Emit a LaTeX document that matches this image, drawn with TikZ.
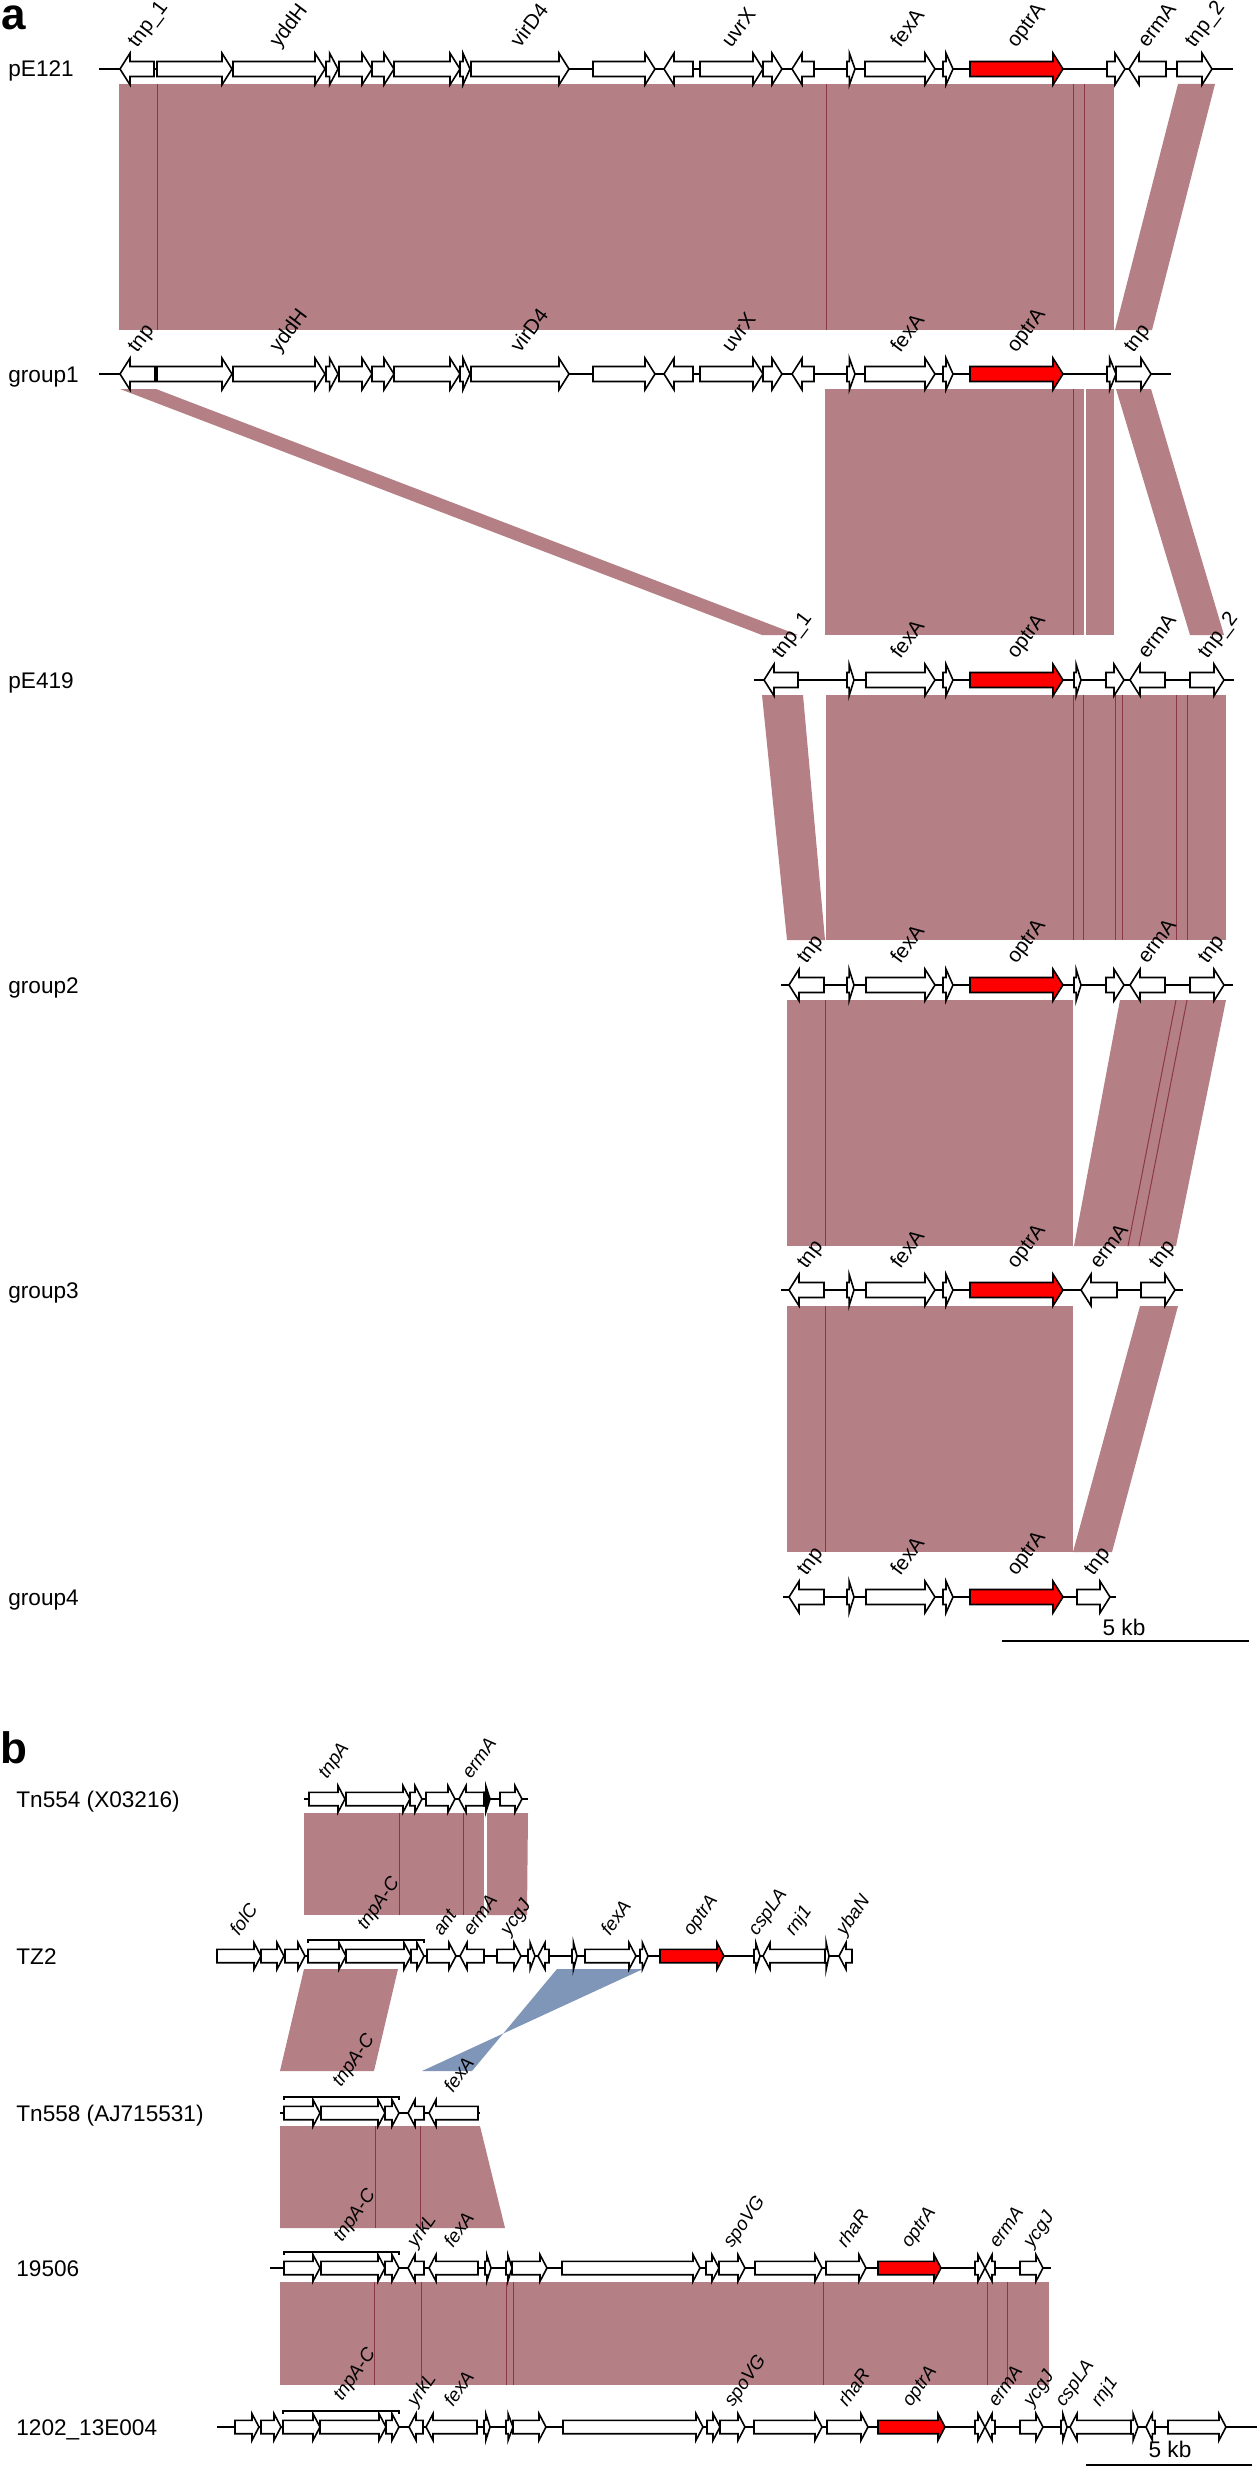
\documentclass[tikz,border=0pt]{standalone}
\usepackage{fontspec}
\setmainfont{Liberation Sans}
\definecolor{bandc}{RGB}{180,128,134}
\definecolor{blinec}{RGB}{140,55,72}
\definecolor{blueb}{RGB}{128,150,185}
\newcounter{nd}
\newcommand\gR[3][white]{%
  \pgfmathsetmacro\gnL{min(\hl,0.7*(#3-#2))}%
  \pgfmathsetmacro\gnA{#3-\gnL}%
  \draw[gene,fill=#1] (#2,\ry-\hb) -- (\gnA,\ry-\hb) -- (\gnA,\ry-\hh) -- (#3,\ry) -- (\gnA,\ry+\hh) -- (\gnA,\ry+\hb) -- (#2,\ry+\hb) -- cycle;}
\newcommand\gLf[3][white]{%
  \pgfmathsetmacro\gnL{min(\hl,0.7*(#3-#2))}%
  \pgfmathsetmacro\gnA{#2+\gnL}%
  \draw[gene,fill=#1] (#3,\ry-\hb) -- (\gnA,\ry-\hb) -- (\gnA,\ry-\hh) -- (#2,\ry) -- (\gnA,\ry+\hh) -- (\gnA,\ry+\hb) -- (#3,\ry+\hb) -- cycle;}
\newcommand\bbone[2]{\draw[bone] (#1,\ry) -- (#2,\ry);}
\newcommand\gtx[2]{\stepcounter{nd}\node[gl] (t\arabic{nd}) at (#1,\ry-\lo) {#2};}
\newcommand\gtxh[2]{\stepcounter{nd}\node[gl] (t\arabic{nd}) at (#1,\ry-\lo-6) {#2};}
\newcommand\rowlab[1]{\stepcounter{nd}\node[rlab] (r\arabic{nd}) at (\rx,\ry+8) {#1};}
\newcommand\brk[2]{\draw[bone] (#1,\ry-\hh) -- (#1,\ry-\hh-3) -- (#2,\ry-\hh-3) -- (#2,\ry-\hh);}
\begin{document}
\begin{tikzpicture}[x=0.5pt,y=-0.5pt,
 gene/.style={draw=black,line width=0.8pt,line join=miter},
 bone/.style={draw=black,line width=0.8pt},
 band/.style={fill=bandc},
 bline/.style={draw=blinec,line width=0.5pt},
 glA/.style={anchor=base west,rotate=53,inner sep=0pt,font=\fontsize{10.3}{11}\selectfont},
 glB/.style={anchor=base west,rotate=55,inner sep=0pt,font=\fontsize{9.4}{10}\selectfont\itshape},
 gl/.style={glA},
 rlab/.style={anchor=base west,inner sep=0pt,font=\fontsize{11.3}{13}\selectfont},
 panel/.style={anchor=base west,inner sep=0pt,text height=12pt,text depth=0pt,font=\fontsize{22}{24}\selectfont\bfseries},
]
\useasboundingbox (0,0) rectangle (1259,2467);
\fill[white] (0,0) rectangle (1259,2467);

%================ PANEL A =================
\node[panel] (pa) at (1,30) {a};
% bands
\fill[band] (119,84) -- (1114,84) -- (1114,330) -- (119,330) -- cycle;
\foreach \x in {157,826,1073.5,1084} \draw[bline] (\x,84) -- (\x,330);
\fill[band] (1178,84) -- (1215,84) -- (1152,330) -- (1115,330) -- cycle;

\fill[band] (825,389) -- (1084,389) -- (1084,635) -- (825,635) -- cycle;
\fill[band] (1086,389) -- (1114,389) -- (1114,635) -- (1086,635) -- cycle;
\draw[bline] (1073,389) -- (1073,635);
\fill[band] (120,389) -- (156,389) -- (798,635) -- (762,635) -- cycle;
\fill[band] (1116,389) -- (1151,389) -- (1224,635) -- (1190,635) -- cycle;

\fill[band] (762,695) -- (803,695) -- (825,940) -- (787,940) -- cycle;
\fill[band] (826,695) -- (1226,695) -- (1226,940) -- (826,940) -- cycle;
\foreach \x in {1073,1083,1115,1122,1176,1187} \draw[bline] (\x,695) -- (\x,940);

\fill[band] (787,1000) -- (1073,1000) -- (1073,1246) -- (787,1246) -- cycle;
\draw[bline] (825.5,1000) -- (825.5,1246);
\fill[band] (1120,1000) -- (1226,1000) -- (1176,1246) -- (1074,1246) -- cycle;
\draw[bline] (1176,1000) -- (1128,1246);
\draw[bline] (1187,1000) -- (1139,1246);

\fill[band] (787,1306) -- (1073,1306) -- (1073,1552) -- (787,1552) -- cycle;
\draw[bline] (825.5,1306) -- (825.5,1552);
\fill[band] (1140,1306) -- (1178,1306) -- (1112,1552) -- (1073,1552) -- cycle;

\def\hh{15.8}\def\hb{7.5}\def\hl{10}\def\lo{20}\def\rx{8}
% pE121
\def\ry{69}
\rowlab{pE121}
\bbone{99}{1233}
\gLf{120}{154}\gR{157}{232}\gR{233}{325}\gR{326}{338}\gR{339}{372}\gR{372}{394}
\gR{394}{460}\gR{460}{470}\gR{471}{569}\gR{593}{655}\gLf{664}{693}\gR{700}{763}
\gR{763}{782}\gLf{792}{814}\gR{847}{855}\gR{865}{935}\gR{943}{953}\gR[red]{970}{1063}
\gR{1107}{1125}\gLf{1129}{1166}\gR{1177}{1212}
\gtx{137}{tnp\_1}\gtx{279}{yddH}\gtx{520}{virD4}\gtx{731}{uvrX}\gtx{900}{fexA}
\gtx{1016}{optrA}\gtx{1147}{ermA}\gtx{1194}{tnp\_2}
% group1
\def\ry{374}
\rowlab{group1}
\bbone{99}{1171}
\gLf{120}{155}\gR{157}{232}\gR{233}{325}\gR{326}{338}\gR{339}{372}\gR{372}{394}
\gR{394}{460}\gR{460}{470}\gR{471}{569}\gR{593}{655}\gLf{664}{693}\gR{700}{763}
\gR{763}{782}\gLf{792}{814}\gR{847}{855}\gR{865}{935}\gR{943}{953}\gR[red]{970}{1063}
\gR{1107}{1116}\gR{1116}{1151}
\gtx{137}{tnp}\gtx{279}{yddH}\gtx{520}{virD4}\gtx{731}{uvrX}\gtx{900}{fexA}
\gtx{1016}{optrA}\gtx{1133}{tnp}
% pE419
\def\ry{680}
\rowlab{pE419}
\bbone{754}{1234}
\gLf{764}{798}\gR{847}{854}\gR{866}{935}\gR{943}{953}\gR[red]{970}{1063}
\gR{1074}{1081}\gR{1106}{1124}\gLf{1130}{1165}\gR{1190}{1224}
\gtx{781}{tnp\_1}\gtx{900}{fexA}\gtx{1016}{optrA}\gtx{1147}{ermA}\gtx{1207}{tnp\_2}
% group2
\def\ry{985}
\rowlab{group2}
\bbone{781}{1233}
\gLf{789}{824}\gR{847}{854}\gR{866}{935}\gR{943}{953}\gR[red]{970}{1063}
\gR{1074}{1081}\gR{1106}{1124}\gLf{1130}{1165}\gR{1190}{1224}
\gtx{806}{tnp}\gtx{900}{fexA}\gtx{1016}{optrA}\gtx{1147}{ermA}\gtx{1207}{tnp}
% group3
\def\ry{1290}
\rowlab{group3}
\bbone{781}{1183}
\gLf{789}{824}\gR{847}{854}\gR{866}{935}\gR{943}{953}\gR[red]{970}{1063}
\gLf{1081}{1117}\gR{1141}{1175}
\gtx{806}{tnp}\gtx{900}{fexA}\gtx{1016}{optrA}\gtx{1099}{ermA}\gtx{1158}{tnp}
% group4
\def\ry{1597}
\rowlab{group4}
\bbone{783}{1116}
\gLf{789}{824}\gR{847}{854}\gR{866}{935}\gR{943}{953}\gR[red]{970}{1063}
\gR{1077}{1110}
\gtx{806}{tnp}\gtx{900}{fexA}\gtx{1016}{optrA}\gtx{1093}{tnp}
% scale bar
\draw[bone] (1002,1641) coordinate (sa1) -- (1249,1641) coordinate (sa2);
\node[rlab,anchor=base] (sak) at (1124,1635) {5 kb};

%================ PANEL B =================
\node[panel] (pb) at (0,1763) {b};
\tikzset{gl/.style={glB}}
% bands
\fill[band] (304,1813) -- (484,1813) -- (484,1915) -- (304,1915) -- cycle;
\fill[band] (487,1813) -- (528,1813) -- (527,1915) -- (487,1915) -- cycle;
\foreach \x in {399,463} \draw[bline] (\x,1813) -- (\x,1915);
\fill[band] (304,1969) -- (398,1969) -- (374,2071) -- (280,2071) -- cycle;
\fill[blueb] (557,1969) -- (643,1969) -- (422,2071) -- (472,2071) -- cycle;
\fill[band] (280,2126) -- (480,2126) -- (505,2228) -- (280,2228) -- cycle;
\foreach \x in {375,420} \draw[bline] (\x,2126) -- (\x,2228);
\fill[band] (280,2282) -- (1049,2282) -- (1049,2385) -- (280,2385) -- cycle;
\foreach \x in {374,421,506,513,823,987,1007} \draw[bline] (\x,2282) -- (\x,2385);

\def\hh{13.3}\def\hb{6.7}\def\hl{7}\def\lo{19}\def\rx{16}
% Tn554
\def\ry{1799}
\rowlab{Tn554 (X03216)}
\bbone{304}{528}
\gR{309}{345}\gR{346}{410}\gR{410}{422}\gR{426}{455}\gLf{459}{484}\gR[black]{484}{490}\gR{500}{522}
\gtx{327}{tnpA}\gtx{471}{ermA}
% TZ2
\def\ry{1956}
\rowlab{TZ2}
\bbone{216}{853}
\gR{217}{261}\gR{261}{284}\gR{285}{305}\gR{308}{346}\gR{346}{411}\gR{411}{424}
\gR{427}{456}\gLf{460}{484}\gR{497}{521}\gR{528}{535}\gLf{538}{549}\gR{572}{577}
\gR{585}{636}\gR{640}{648}\gR[red]{660}{724}\gR{754}{760}\gLf{763}{825}\gR{825}{829}\gLf{839}{852}
\brk{308}{424}
\gtx{239}{folC}\gtxh{366}{tnpA-C}\gtx{442}{ant}\gtx{472}{ermA}\gtx{509}{ycgJ}
\gtx{610}{fexA}\gtx{692}{optrA}\gtx{757}{cspLA}\gtx{794}{rnj1}\gtx{845}{ybaN}
% Tn558
\def\ry{2113}
\rowlab{Tn558 (AJ715531)}
\bbone{280}{480}
\gR{284}{320}\gR{321}{385}\gR{385}{399}\gLf{408}{424}\gLf{429}{478}
\brk{284}{399}
\gtxh{341}{tnpA-C}\gtx{453}{fexA}
% 19506
\def\ry{2268}
\rowlab{19506}
\bbone{270}{1051}
\gR{284}{320}\gR{321}{385}\gR{385}{399}\gLf{408}{424}\gLf{429}{478}\gR{485}{491}
\gR{506}{512}\gR{512}{547}\gR{562}{700}\gR{706}{719}\gR{719}{745}\gR{755}{822}
\gR{826}{866}\gR[red]{878}{941}\gR{975}{985}\gLf{985}{995}\gR{1020}{1043}
\brk{284}{399}
\gtxh{342}{tnpA-C}\gtx{416}{yrkL}\gtx{453}{fexA}\gtx{732}{spoVG}\gtx{846}{rhaR}
\gtx{910}{optrA}\gtx{998}{ermA}\gtx{1032}{ycgJ}
% 1202_13E004
\def\ry{2427}
\rowlab{1202\_13E004}
\bbone{217}{1257}
\gR{235}{259}\gR{261}{281}\gR{283}{320}\gR{320}{386}\gR{386}{399}\gLf{409}{423}
\gLf{426}{477}\gR{484}{490}\gR{506}{513}\gR{513}{546}\gR{563}{703}\gR{707}{720}
\gR{720}{745}\gR{754}{822}\gR{827}{868}\gR[red]{878}{945}\gR{975}{985}\gLf{985}{995}
\gR{1020}{1043}\gR{1061}{1067}\gLf{1070}{1131}\gR{1131}{1138}\gLf{1146}{1155}\gR{1168}{1226}
\brk{283}{399}
\gtxh{342}{tnpA-C}\gtx{416}{yrkL}\gtx{453}{fexA}\gtx{733}{spoVG}\gtx{847}{rhaR}
\gtx{911}{optrA}\gtx{997}{ermA}\gtx{1032}{ycgJ}\gtx{1064}{cspLA}\gtx{1100}{rnj1}
% scale bar
\draw[bone] (1086,2465) coordinate (sb1) -- (1252,2465) coordinate (sb2);
\node[rlab,anchor=base] (sbk) at (1170,2457) {5 kb};
\end{tikzpicture}
\end{document}
